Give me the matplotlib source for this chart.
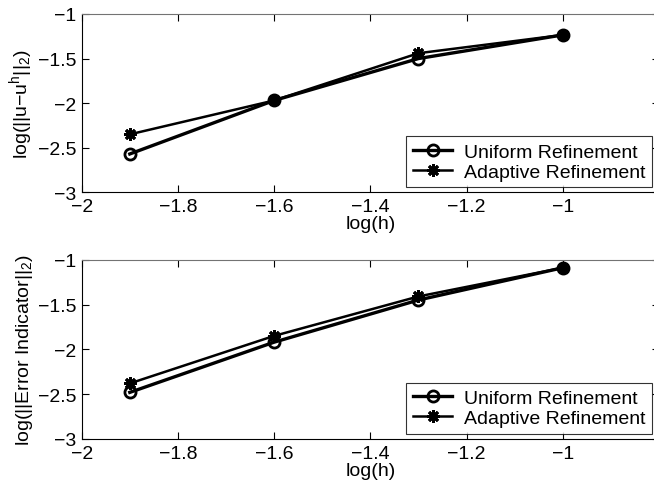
import numpy as np
import matplotlib.pyplot as plt

plt.rcParams['font.family'] = ['Liberation Sans', 'DejaVu Sans']
plt.rcParams['mathtext.fontset'] = 'custom'
plt.rcParams['mathtext.rm'] = 'Liberation Sans'
plt.rcParams['mathtext.it'] = 'Liberation Sans'
plt.rcParams['mathtext.default'] = 'rm'

# log of mesh size
log_h = [-1.9, -1.6, -1.3, -1.0]

# log of L2 error
err_uniform = [-2.57, -1.97, -1.50, -1.235]
err_adaptive = [-2.35, -1.97, -1.44, -1.235]

# log of error indicator
ind_uniform = [-2.48, -1.92, -1.45, -1.09]
ind_adaptive = [-2.38, -1.85, -1.41, -1.09]

ylabels = [r'log($||$u$-$u$^h||_2$)', r'log($||$Error Indicator$||_2$)']
xticks = [-2, -1.8, -1.6, -1.4, -1.2, -1]
yticks = [-3, -2.5, -2, -1.5, -1]

fig = plt.figure(figsize=(6.54, 4.85), dpi=100)
W, H = 654, 485
left, width = 81.7 / W, 577.2 / W
ax1 = fig.add_axes([left, 1 - 193.3 / H, width, 178.3 / H])
ax2 = fig.add_axes([left, 1 - 440 / H, width, 179.3 / H])


def fmt(v):
    return ('%g' % v).replace('-', '\u2212')


for ax, yu, ya, lab in [(ax1, err_uniform, err_adaptive, ylabels[0]),
                        (ax2, ind_uniform, ind_adaptive, ylabels[1])]:
    ax.plot(log_h, yu, color='black', lw=2.4, marker='o', ms=8,
            mfc='none', mew=2.0, label='Uniform Refinement')
    ax.plot(log_h, ya, color='black', lw=1.8, marker=(8, 2, 0), ms=9,
            mew=2.0, label='Adaptive Refinement')
    ax.set_xlim(-2, -0.8)
    ax.set_ylim(-3, -1)
    ax.set_xticks(xticks)
    ax.set_xticklabels([fmt(v) for v in xticks])
    ax.set_yticks(yticks)
    ax.set_yticklabels([fmt(v) for v in yticks])
    ax.tick_params(direction='in', top=True, right=True, length=5, width=0.8,
                   labelsize=14, pad=4)
    ax.set_xlabel('log(h)', fontsize=14, labelpad=0)
    ax.set_ylabel(lab, fontsize=14, labelpad=2)
    for s in ax.spines.values():
        s.set_linewidth(0.8)
    ax.spines['top'].set_color('0.45')
    leg = ax.legend(loc='lower right', fontsize=14, frameon=True, fancybox=False,
                    edgecolor='black', handlelength=2.0, handletextpad=0.6,
                    borderpad=0.35, labelspacing=0.12, borderaxespad=0,
                    bbox_to_anchor=(0.988, 0.028))
    leg.get_frame().set_linewidth(0.8)

fig.savefig('out.png', dpi=100)
